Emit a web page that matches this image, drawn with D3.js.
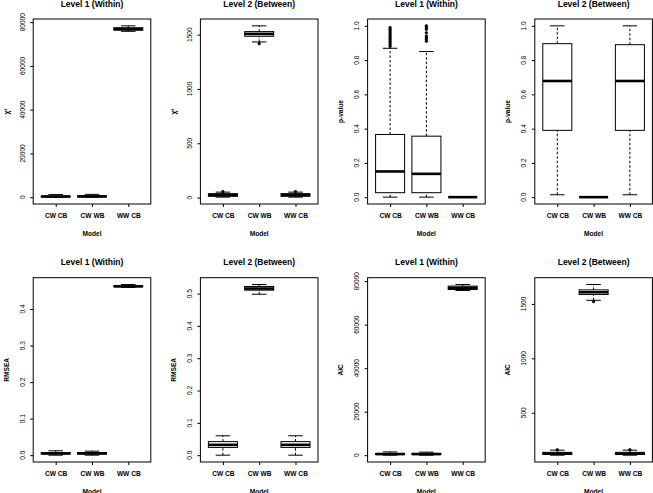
<!DOCTYPE html>
<html>
<head>
<meta charset="utf-8">
<script src="https://d3js.org/d3.v7.min.js"></script>
<style>
  body { margin: 0; background: #fff; }
  text { font-family: "Liberation Sans", Arial, sans-serif; fill: #000; }
</style>
</head>
<body>
<script>
// models on the x axis
var models = ["CW CB", "CW WB", "WW CB"];

// each row: [lower whisker, q1, median, q3, upper whisker]
var chiWithin = [[20, 150, 300, 500, 1200], [30, 180, 350, 550, 1300], [75800, 76300, 76900, 77400, 78300]];
var chiWithinOut = [[], [], []];
var chiBetween = [[4, 12, 24, 36, 50], [1433, 1485, 1507, 1528, 1581], [4, 12, 24, 36, 50]];
var chiBetweenOut = [[55], [1417], [55]];
var pWithin = [[0, 0.026, 0.15, 0.366, 0.869], [0, 0.026, 0.136, 0.356, 0.85], [0, 0, 0, 0, 0]];
var pWithinOut = [
  [0.88, 0.89, 0.90, 0.91, 0.92, 0.93, 0.94, 0.95, 0.96, 0.97, 0.98, 0.99],
  [0.91, 0.92, 0.93, 0.94, 0.96, 0.98, 0.99, 1.0],
  []];
var pBetween = [[0.014, 0.39, 0.678, 0.896, 1.0], [0, 0, 0, 0, 0], [0.014, 0.39, 0.678, 0.89, 1.0]];
var pBetweenOut = [[], [], []];
var rmseaWithin = [[0, 0.003, 0.005, 0.007, 0.012], [0, 0.003, 0.005, 0.007, 0.011], [0.459, 0.461, 0.462, 0.463, 0.467]];
var rmseaWithinOut = [[], [], []];
var rmseaBetween = [[0, 0.024, 0.032, 0.042, 0.060], [0.498, 0.5105, 0.5156, 0.522, 0.528], [0, 0.024, 0.032, 0.042, 0.060]];
var rmseaBetweenOut = [[], [], []];
var aicWithin = [[0, 300, 500, 800, 1500], [0, 300, 500, 800, 1400], [75700, 76160, 76937, 77714, 78446]];
var aicWithinOut = [[], [], []];
var aicBetween = [[110, 116, 124, 136, 156], [1533, 1586, 1607, 1629, 1678], [110, 116, 124, 136, 156]];
var aicBetweenOut = [[160], [1521], [160]];

// tick values
var ticksBig = [0, 20000, 40000, 60000, 80000];
var ticksChiB = [0, 500, 1000, 1500];
var ticksP = [0, 0.2, 0.4, 0.6, 0.8, 1.0];
var ticksRW = [0, 0.1, 0.2, 0.3, 0.4];
var ticksRB = [0, 0.1, 0.2, 0.3, 0.4, 0.5];
var ticksAicB = [500, 1000, 1500];

var titles = ["Level 1 (Within)", "Level 2 (Between)", "Level 1 (Within)", "Level 2 (Between)",
              "Level 1 (Within)", "Level 2 (Between)", "Level 1 (Within)", "Level 2 (Between)"];
var yTitles = ["\u03c7\u00b2", "\u03c7\u00b2", "p-value", "p-value", "RMSEA", "RMSEA", "AIC", "AIC"];

var panels = [
  {stats: chiWithin, out: chiWithinOut, ticks: ticksBig, fmt: d3.format("d")},
  {stats: chiBetween, out: chiBetweenOut, ticks: ticksChiB, fmt: d3.format("d")},
  {stats: pWithin, out: pWithinOut, ticks: ticksP, fmt: d3.format(".1f")},
  {stats: pBetween, out: pBetweenOut, ticks: ticksP, fmt: d3.format(".1f")},
  {stats: rmseaWithin, out: rmseaWithinOut, ticks: ticksRW, fmt: d3.format(".1f")},
  {stats: rmseaBetween, out: rmseaBetweenOut, ticks: ticksRB, fmt: d3.format(".1f")},
  {stats: aicWithin, out: aicWithinOut, ticks: ticksBig, fmt: d3.format("d")},
  {stats: aicBetween, out: aicBetweenOut, ticks: ticksAicB, fmt: d3.format("d")}
];

var W = 653, H = 493;
var svg = d3.select("body").append("svg")
  .attr("width", W).attr("height", H);

var rowTop = [19, 277.7], rowBottom = [204, 462];
var halfW = 58.8;

panels.forEach(function (p, k) {
  var col = k % 4, row = Math.floor(k / 4);
  var cx = 92 + col * 167.2;
  var left = cx - halfW, right = cx + halfW;
  var top = rowTop[row], bottom = rowBottom[row];

  var all = [];
  p.stats.forEach(function (s) { all = all.concat(s); });
  p.out.forEach(function (o) { all = all.concat(o); });
  var lo = d3.min(all), hi = d3.max(all), pad = (hi - lo) * 0.04;

  var x = d3.scaleLinear().domain([0.38, 3.62]).range([left, right]);
  var y = d3.scaleLinear().domain([lo - pad, hi + pad]).range([bottom, top]);

  var g = svg.append("g");

  p.stats.forEach(function (s, i) {
    var c = x(i + 1);
    var bw = x(i + 1.4) - c, sw = x(i + 1.2) - c;
    // whiskers
    g.append("line").attr("x1", c).attr("x2", c).attr("y1", y(s[0])).attr("y2", y(s[1]))
      .attr("stroke", "#000").attr("stroke-dasharray", "2.5,2");
    g.append("line").attr("x1", c).attr("x2", c).attr("y1", y(s[3])).attr("y2", y(s[4]))
      .attr("stroke", "#000").attr("stroke-dasharray", "2.5,2");
    // staples
    [s[0], s[4]].forEach(function (v) {
      g.append("line").attr("x1", c - sw).attr("x2", c + sw).attr("y1", y(v)).attr("y2", y(v))
        .attr("stroke", "#000").attr("stroke-width", 1);
    });
    // box
    g.append("rect").attr("x", c - bw).attr("width", 2 * bw)
      .attr("y", y(s[3])).attr("height", Math.max(0, y(s[1]) - y(s[3])))
      .attr("fill", "none").attr("stroke", "#000").attr("stroke-width", 1);
    // median
    g.append("line").attr("x1", c - bw).attr("x2", c + bw).attr("y1", y(s[2])).attr("y2", y(s[2]))
      .attr("stroke", "#000").attr("stroke-width", 2.6);
    // outliers
    g.selectAll(null).data(p.out[i]).enter().append("circle")
      .attr("cx", c).attr("cy", function (d) { return y(d); }).attr("r", 1.3)
      .attr("fill", "#000").attr("stroke", "#000").attr("stroke-width", 0.6);
  });

  // frame
  g.append("rect").attr("x", left).attr("y", top)
    .attr("width", right - left).attr("height", bottom - top)
    .attr("fill", "none").attr("stroke", "#000").attr("stroke-width", 1);

  // y axis
  var ya = g.append("g").attr("transform", "translate(" + left + ",0)")
    .call(d3.axisLeft(y).tickValues(p.ticks).tickFormat(p.fmt).tickSize(3).tickPadding(0));
  ya.select(".domain").remove();
  ya.selectAll("text").remove();
  ya.selectAll("line").attr("stroke", "#000");
  g.selectAll(null).data(p.ticks).enter().append("text")
    .attr("transform", function (d) { return "translate(" + (left - 8.5) + "," + y(d) + ") rotate(-90)"; })
    .attr("text-anchor", "middle")
    .style("font-size", "6.6px")
    .text(p.fmt);

  // x axis
  var xa = g.append("g").attr("transform", "translate(0," + bottom + ")")
    .call(d3.axisBottom(x).tickValues([1, 2, 3]).tickFormat(function (d) { return models[d - 1]; })
      .tickSize(3).tickPadding(6));
  xa.select(".domain").remove();
  xa.selectAll("line").attr("stroke", "#000");
  xa.selectAll("text").style("font-size", "6.6px").style("font-weight", "bold")
    .style("font-family", "Liberation Sans, Arial, sans-serif")
    .attr("fill", "#000");

  // titles
  g.append("text").attr("x", cx).attr("y", top - 12.5).attr("text-anchor", "middle")
    .style("font-size", "8.5px").style("font-weight", "bold").text(titles[k]);
  g.append("text").attr("x", cx).attr("y", bottom + 31.5).attr("text-anchor", "middle")
    .style("font-size", "6.6px").style("font-weight", "bold").text("Model");
  g.append("text")
    .attr("transform", "translate(" + (left - 24.5) + "," + ((top + bottom) / 2) + ") rotate(-90)")
    .attr("text-anchor", "middle")
    .style("font-size", "6.6px").style("font-weight", "bold").text(yTitles[k]);
});
</script>
</body>
</html>
